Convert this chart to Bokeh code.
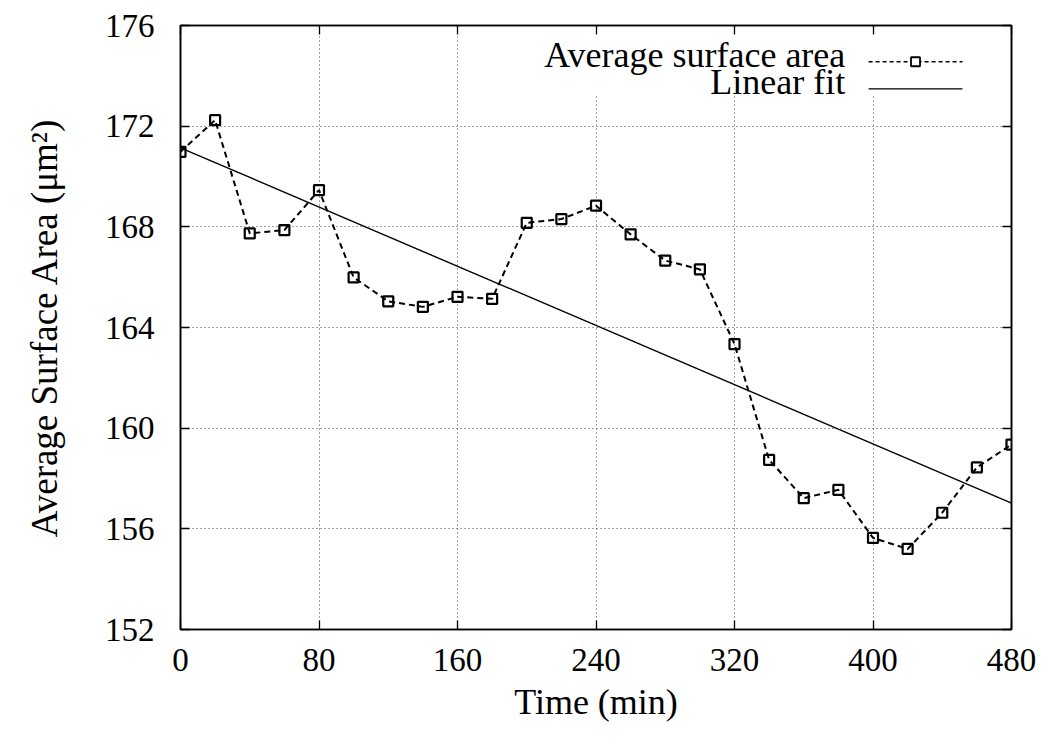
from bokeh.plotting import figure
from bokeh.models import LinearAxis, Range1d, FixedTicker, Label, BoxAnnotation
from bokeh.embed import file_html
from bokeh.resources import INLINE

# ---- data ----
time_min = [0, 20, 40, 60, 80, 100, 120, 140, 160, 180, 200, 220, 240,
            260, 280, 300, 320, 340, 360, 380, 400, 420, 440, 460, 480]
avg_area = [170.98, 172.24, 167.74, 167.87, 169.46, 165.99, 165.04, 164.82,
            165.22, 165.14, 168.16, 168.31, 168.84, 167.70, 166.66, 166.31,
            163.34, 158.74, 157.22, 157.55, 155.64, 155.20, 156.64, 158.44,
            159.35]
fit_x = [0, 480]
fit_y = [171.14, 157.02]
x_ticks = [0, 80, 160, 240, 320, 400, 480]
y_ticks = [152, 156, 160, 164, 168, 172, 176]
series_label = "Average surface area"
fit_label = "Linear fit"
x_title = "Time (min)"
y_title = "Average Surface Area (\u03bcm\u00b2)"

X0, X1 = 0, 480
Y0, Y1 = 152, 176

FONT = "Liberation Serif"
TICK_FS = "33px"
TITLE_FS = "36px"

p = figure(width=1041, height=736, output_backend="svg", toolbar_location=None,
           x_range=Range1d(X0, X1), y_range=Range1d(Y0, Y1),
           min_border_left=180, min_border_right=30,
           min_border_top=25, min_border_bottom=107,
           x_axis_label=x_title, y_axis_label=y_title)
p.background_fill_color = "white"
p.border_fill_color = "white"
p.outline_line_color = "black"
p.outline_line_width = 1.5

def style_axis(ax, ticks, show_labels):
    ax.ticker = FixedTicker(ticks=ticks)
    ax.axis_line_color = "black"
    ax.axis_line_width = 1.6
    ax.major_tick_line_color = "black"
    ax.major_tick_line_width = 1.3
    ax.major_tick_in = 9
    ax.major_tick_out = 0
    ax.minor_tick_line_color = None
    ax.major_label_text_font = FONT
    ax.major_label_text_color = "black"
    ax.axis_label_text_font = FONT
    ax.axis_label_text_font_style = "normal"
    ax.axis_label_text_color = "black"
    if show_labels:
        ax.major_label_text_font_size = TICK_FS
    else:
        ax.major_label_overrides = {t: "" for t in ticks}
        ax.major_label_text_font_size = "1px"
        ax.major_label_standoff = 0

style_axis(p.xaxis[0], x_ticks, True)
style_axis(p.yaxis[0], y_ticks, True)
p.xaxis[0].major_label_standoff = 19
p.xaxis[0].axis_label_standoff = 8
p.xaxis[0].axis_label_text_font_size = TITLE_FS
p.yaxis[0].major_label_standoff = 26
p.yaxis[0].axis_label_standoff = 37
p.yaxis[0].axis_label_text_font_size = "37px"

top_ax = LinearAxis()
right_ax = LinearAxis()
style_axis(top_ax, x_ticks, False)
style_axis(right_ax, y_ticks, False)
p.add_layout(top_ax, "above")
p.add_layout(right_ax, "right")

for g, t in ((p.xgrid[0], x_ticks), (p.ygrid[0], y_ticks)):
    g.ticker = FixedTicker(ticks=t)
    g.grid_line_color = "#444444"
    g.grid_line_width = 1
    g.grid_line_dash = "1 3"

# ---- data marks ----
p.line(fit_x, fit_y, line_color="black", line_width=1.4)
p.line(time_min, avg_area, line_color="black", line_width=2, line_dash="6 4")
p.scatter(time_min, avg_area, marker="square", size=10, fill_color=None,
          line_color="black", line_width=2.2)

# ---- gnuplot-style key (text right-aligned, sample on the right) ----
def fx(f):
    return X0 + f * (X1 - X0)

def fy(f):
    return Y0 + f * (Y1 - Y0)

p.add_layout(BoxAnnotation(left=fx(0.43), right=fx(0.985), bottom=fy(0.885),
                           top=fy(0.983), fill_color="white", fill_alpha=1.0,
                           line_color=None))
rows = [(series_label, fy(0.940), True), (fit_label, fy(0.895), False)]
for text, yy, with_marker in rows:
    p.add_layout(Label(x=fx(0.80), y=yy, text=text, text_align="right",
                       text_baseline="middle", text_font=FONT,
                       text_font_size=TITLE_FS, text_color="black",
                       y_offset=7))
    if with_marker:
        p.line([fx(0.828), fx(0.941)], [yy, yy], line_color="black",
               line_width=1.4, line_dash="4 3", level="overlay")
        p.scatter([fx(0.8845)], [yy], marker="square", size=9,
                  fill_color="white", line_color="black", line_width=1.8,
                  level="overlay")
    else:
        p.line([fx(0.828), fx(0.941)], [yy, yy], line_color="black",
               line_width=1.4, level="overlay")

open("out.html", "w").write(file_html(p, INLINE))
